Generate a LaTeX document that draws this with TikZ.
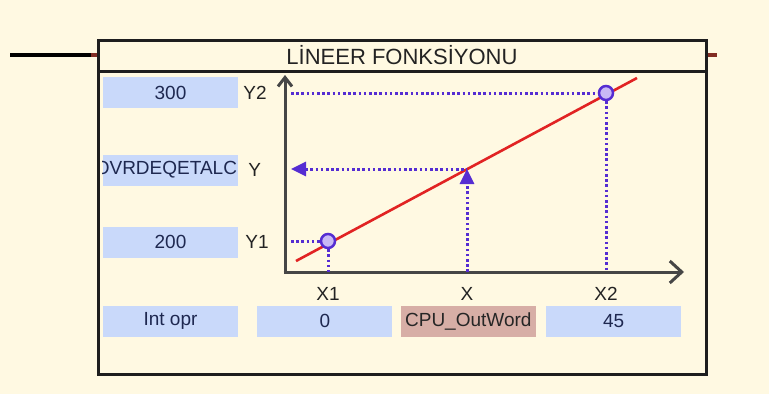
\documentclass[tikz,border=0pt]{standalone}
\usepackage{fontspec}
\setmainfont{Liberation Sans}
\usepackage{xcolor}
\usetikzlibrary{arrows.meta, positioning}

\definecolor{bgcream}{RGB}{255,249,226}
\definecolor{valblue}{RGB}{201,217,250}
\definecolor{pinkval}{RGB}{215,174,166}
\definecolor{valtext}{RGB}{30,40,80}
\definecolor{lbltext}{RGB}{35,35,35}
\definecolor{framedark}{RGB}{30,30,30}
\definecolor{axisgray}{RGB}{70,70,70}
\definecolor{fred}{RGB}{225,35,35}
\definecolor{dotviolet}{RGB}{85,45,210}
\definecolor{ptfill}{RGB}{200,185,245}
\definecolor{stubred}{RGB}{130,45,35}

\begin{document}
\begin{tikzpicture}[x=1pt, y=-1pt,
    valbox/.style={fill=valblue, minimum width=135pt, minimum height=31pt,
        inner sep=0pt, text=valtext, font=\fontsize{19}{22}\selectfont},
    pinkbox/.style={valbox, fill=pinkval, text=black!85},
    pinlbl/.style={text=lbltext, inner sep=0pt, font=\fontsize{19}{22}\selectfont},
    axisln/.style={draw=axisgray, line width=3pt},
    dotln/.style={draw=dotviolet, line width=3pt, dash pattern=on 2.6pt off 2.6pt},
    fline/.style={draw=fred, line width=2.6pt},
    ptcircle/.style={circle, draw=dotviolet, line width=2.5pt, fill=ptfill,
        minimum size=14pt, inner sep=0pt},
    wire/.style={draw=black, line width=3.5pt},
    stub/.style={draw=stubred, line width=4pt},
    vtip/.style={fill=dotviolet, draw=dotviolet},
]
    \fill[bgcream] (0,0) rectangle (769,394);
    \useasboundingbox (0,0) rectangle (769,394);

    % block frame and title
    \node[draw=framedark, line width=3pt, minimum width=608pt, minimum height=334pt,
        inner sep=0pt] (fb) at (402,207) {};
    \node[draw=framedark, line width=3pt, minimum width=608pt, minimum height=31pt,
        anchor=north, text=lbltext, font=\fontsize{22}{26}\selectfont] (ttl) at (fb.north)
        {LİNEER FONKSİYONU};

    % in / out wires
    \coordinate (win) at (10,55);
    \coordinate (wout) at (717,55);
    \draw[wire] (win) -- (fb.west |- win);
    \draw[stub] ([xshift=-6pt]fb.west |- win) -- (fb.west |- win);
    \draw[stub] (fb.east |- wout) -- (wout);

    % axes
    \coordinate (o) at (285,272);
    \coordinate (ytop) at (285,75);
    \coordinate (xend) at (684,272);
    \coordinate (yin) at (291,272);
    \draw[axisln, -{Straight Barb[length=9pt,width=14pt]}] (o) -- (ytop);
    \draw[axisln, -{Straight Barb[length=12pt,width=22pt]}] ([xshift=-1.5pt]o) -- (xend);

    % function line
    \coordinate (fs) at (296,261);
    \coordinate (fe) at (637,78);
    \draw[fline] (fs) -- (fe);

    % points
    \coordinate (px) at (467,169);
    \draw[dotln] (yin |- 0,241) -- (321,241);
    \draw[dotln] (yin |- 0,93) -- (599,93);
    \node[ptcircle] (p1) at (328,241) {};
    \node[ptcircle] (p2) at (606,93) {};
    \draw[dotln] (p1.south) -- (p1 |- o);
    \draw[dotln] (p2.south) -- (p2 |- o);
    \draw[dotln, {Triangle[length=15pt,width=14pt]}-] (yin |- px) -- (px);
    \draw[dotln, -{Triangle[length=15pt,width=14pt]}] (px |- o) -- (px);

    % y side values
    \node[valbox] (v300) at (170.5,92.5) {300};
    \node[valbox] (vy) at (170.5,170) {};
    \node[valbox] (v200) at (170.5,242) {200};
    \begin{scope}
        \clip (vy.south west) rectangle (vy.north east);
        \node[pinlbl, text=valtext, anchor=east] (vyt) at ([xshift=-1pt]vy.east) {OVRDEQETALC};
    \end{scope}
    \node[pinlbl, right=5pt of v300] (ly2) {Y2};
    \node[pinlbl, right=10pt of vy] (ly) {Y};
    \node[pinlbl, right=7pt of v200] (ly1) {Y1};

    % x side values
    \coordinate (lbly) at (0,294);
    \node[pinlbl] (lx1) at (p1 |- lbly) {X1};
    \node[pinlbl] (lx) at (px |- lbly) {X};
    \node[pinlbl] (lx2) at (p2 |- lbly) {X2};
    \node[valbox] (bint) at (170.5,321) {Int opr};
    \node[valbox, right=19pt of bint] (bx1) {0};
    \node[pinkbox, right=8pt of bx1] (bx) {CPU\_OutWord};
    \node[valbox, right=10pt of bx] (bx2) {45};
\end{tikzpicture}
\end{document}
